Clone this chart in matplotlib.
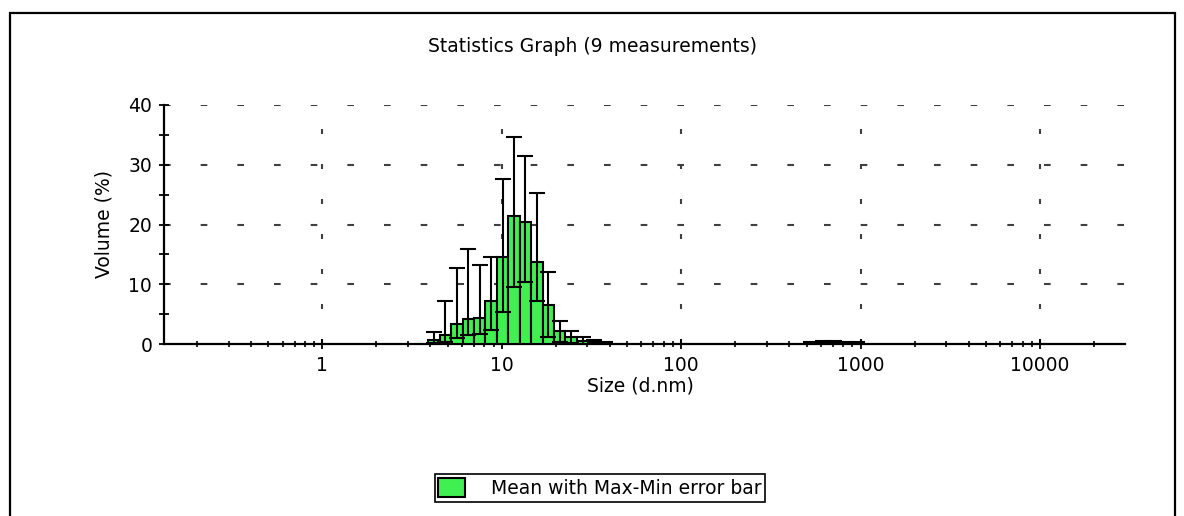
import numpy as np
import matplotlib
matplotlib.use("Agg")
import matplotlib.pyplot as plt
from matplotlib.patches import Rectangle, Patch
from matplotlib.ticker import FixedLocator, FixedFormatter, LogLocator, NullFormatter

plt.rcParams['font.family'] = ['DejaVu Sans']

# size classes (d.nm) and volume statistics (%)
sizes = [4.187, 4.849, 5.615, 6.503, 7.531, 8.721, 10.1, 11.7, 13.54, 15.69,
         18.17, 21.04, 24.36, 28.21, 32.67, 37.84,
         531.2, 615.1, 712.4, 825.0, 955.4]
vol_mean = [0.6, 1.5, 3.3, 4.2, 4.3, 7.2, 14.6, 21.4, 20.5, 13.7,
            6.5, 2.1, 1.2, 0.55, 0.3, 0.1,
            0.2, 0.3, 0.3, 0.25, 0.2]
vol_min = [0.1, 0.3, 1.0, 1.5, 1.6, 2.3, 5.4, 9.6, 10.3, 7.2,
           1.1, 0.3, 0.1, 0.05, 0.0, 0.0,
           0.0, 0.0, 0.0, 0.0, 0.0]
vol_max = [2.0, 7.2, 12.7, 15.9, 13.3, 14.6, 27.6, 34.7, 31.5, 25.3,
           12.0, 3.9, 2.1, 1.1, 0.6, 0.3,
           0.4, 0.5, 0.5, 0.4, 0.3]

xticks = [1, 10, 100, 1000, 10000]
xtick_labels = ['1', '10', '100', '1000', '10000']
yticks = [0, 10, 20, 30, 40]

sizes = np.array(sizes)
vol_mean = np.array(vol_mean)
ratio = (10000 / 0.4) ** (1 / 69)   # class ratio of the size bins
left = sizes / np.sqrt(ratio)
right = sizes * np.sqrt(ratio)

fs = 13.5

fig = plt.figure(figsize=(11.84, 5.16), dpi=100)
ax = fig.add_axes([164 / 1184, 172 / 516, 961 / 1184, 239 / 516])

ax.bar(left, vol_mean, width=right - left, align='edge', color='#40F050',
       edgecolor='black', linewidth=1.5, zorder=3)
yerr = np.vstack([vol_mean - np.array(vol_min), np.array(vol_max) - vol_mean])
ax.errorbar(sizes, vol_mean, yerr=yerr, fmt='none', ecolor='black',
            elinewidth=1.5, capsize=6, capthick=1.5, zorder=4)

ax.set_xscale('log')
ax.set_xlim(0.131, 29800)
ax.set_ylim(0, 40)

ax.xaxis.set_major_locator(FixedLocator(xticks))
ax.xaxis.set_major_formatter(FixedFormatter(xtick_labels))
ax.xaxis.set_minor_locator(LogLocator(base=10, subs=np.arange(2, 10)))
ax.xaxis.set_minor_formatter(NullFormatter())
ax.set_yticks(yticks)
ax.set_yticks([5, 15, 25, 35], minor=True)

ax.tick_params(axis='both', which='major', direction='inout', length=7,
               width=1.3, labelsize=fs, pad=5)
ax.tick_params(axis='x', which='minor', direction='inout', length=5, width=1.2)
ax.tick_params(axis='y', which='minor', direction='inout', length=7, width=1.3)

for s in ['top', 'right']:
    ax.spines[s].set_visible(False)
for s in ['left', 'bottom']:
    ax.spines[s].set_linewidth(1.6)

for xv in xticks:
    ax.axvline(xv, color='#404040', linewidth=1.5, dashes=(2.4, 14.4), zorder=1)
for yv in yticks[1:]:
    ax.axhline(yv, color='#404040', linewidth=1.5, dashes=(3.2, 14.4), zorder=1)

ax.set_xlabel('Size (d.nm)', fontsize=fs)
ax.set_ylabel('Volume (%)', fontsize=fs)
ax.xaxis.set_label_coords(0.496, -0.135)
ax.yaxis.set_label_coords(-0.053, 0.5)

fig.text(0.5, (516 - 47) / 516, 'Statistics Graph (9 measurements)',
         ha='center', va='center', fontsize=fs)

handle = Patch(facecolor='#40F050', edgecolor='black', linewidth=1.5)
leg = fig.legend([handle], ['Mean with Max-Min error bar'], loc='center',
                 bbox_to_anchor=(600 / 1184, 28 / 516), fontsize=fs,
                 fancybox=False, framealpha=1, edgecolor='black',
                 handlelength=1.4, handleheight=1.2, handletextpad=1.4,
                 borderpad=0.2, borderaxespad=0)
leg.get_frame().set_linewidth(1.2)

fig.add_artist(Rectangle((10 / 1184, -0.1), 1165 / 1184, 1.1 + (516 - 13) / 516 - 1,
                         transform=fig.transFigure, fill=False,
                         edgecolor='black', linewidth=1.6))

fig.savefig('out.png', dpi=100)
